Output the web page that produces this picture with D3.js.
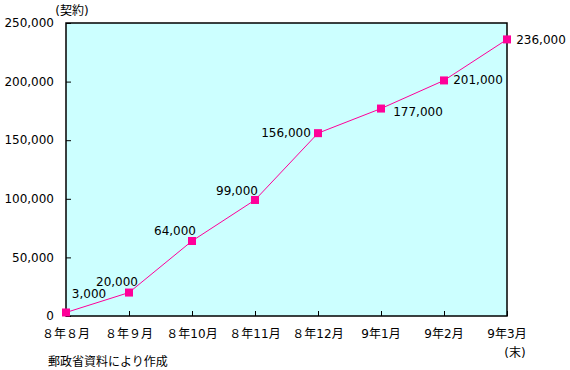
<!DOCTYPE html>
<html>
<head>
<meta charset="utf-8">
<title>契約数の推移</title>
<style>
  body { margin: 0; background: #fff; }
  svg text { font-family: "DejaVu Sans", "Noto Sans CJK JP", sans-serif; fill: #000; }
</style>
</head>
<body>
<script src="https://d3js.org/d3.v7.min.js"></script>
<script>
// data
var months = ["８年８月", "８年９月", "８年10月", "８年11月", "８年12月", "9年1月", "9年2月", "9年3月"];
var contracts = [3000, 20000, 64000, 99000, 156000, 177000, 201000, 236000];
var valueLabels = ["3,000", "20,000", "64,000", "99,000", "156,000", "177,000", "201,000", "236,000"];
var yTicks = [0, 50000, 100000, 150000, 200000, 250000];

// where each value label sits relative to its point
var labelOffsets = [[23, -19], [-12, -11], [-17, -10], [-18, -9], [-32, 0], [37, 3], [34, -1], [34, 0]];

var width = 570, height = 370;
var margin = { left: 66, right: 63, top: 23, bottom: 54 };

var svg = d3.select("body")
    .append("svg")
    .attr("width", width)
    .attr("height", height);

var x = d3.scalePoint()
    .domain(months)
    .range([margin.left, width - margin.right]);

var y = d3.scaleLinear()
    .domain([0, 250000])
    .range([height - margin.bottom, margin.top]);

// plot background
svg.append("rect")
    .attr("x", margin.left)
    .attr("y", margin.top)
    .attr("width", width - margin.left - margin.right)
    .attr("height", height - margin.top - margin.bottom)
    .attr("fill", "#ccffff")
    .attr("stroke", "#000")
    .attr("stroke-width", 1.5);

// y axis, ticks pointing inside
var yAxis = svg.append("g")
    .attr("transform", "translate(" + margin.left + ",0)")
    .call(d3.axisRight(y).tickValues(yTicks).tickSize(5).tickFormat(""));
yAxis.select(".domain").remove();
yAxis.selectAll("line").attr("stroke", "#000");

svg.selectAll(".ylab")
    .data(yTicks)
    .enter()
    .append("text")
    .attr("class", "ylab")
    .attr("x", 54)
    .attr("y", function(d){ return y(d); })
    .attr("dy", "0.35em")
    .attr("text-anchor", "end")
    .style("font-size", "12px")
    .text(function(d){ return d3.format(",")(d); });

// x axis, ticks pointing up
var xAxis = svg.append("g")
    .attr("transform", "translate(0," + y(0) + ")")
    .call(d3.axisTop(x).tickSize(5).tickFormat(""));
xAxis.select(".domain").remove();
xAxis.selectAll("line").attr("stroke", "#000");

svg.selectAll(".xlab")
    .data(months)
    .enter()
    .append("text")
    .attr("class", "xlab")
    .attr("x", function(d){ return x(d); })
    .attr("y", 338)
    .attr("text-anchor", "middle")
    .style("font-size", "12px")
    .text(function(d){ return d; });

svg.append("text")
    .attr("x", x(months[months.length - 1]) + 8)
    .attr("y", 357)
    .attr("text-anchor", "middle")
    .style("font-size", "12px")
    .text("(末)");

svg.append("text")
    .attr("x", 72)
    .attr("y", 15)
    .attr("text-anchor", "middle")
    .style("font-size", "12px")
    .text("(契約)");

svg.append("text")
    .attr("x", 48)
    .attr("y", 366)
    .style("font-size", "12px")
    .text("郵政省資料により作成");

// line and markers
var line = d3.line()
    .x(function(d, i){ return x(months[i]); })
    .y(function(d){ return y(d); });

svg.append("path")
    .datum(contracts)
    .attr("d", line)
    .attr("fill", "none")
    .attr("stroke", "#ff0099")
    .attr("stroke-width", 1);

svg.selectAll(".pt")
    .data(contracts)
    .enter()
    .append("rect")
    .attr("class", "pt")
    .attr("x", function(d, i){ return x(months[i]) - 4; })
    .attr("y", function(d){ return y(d) - 4; })
    .attr("width", 8)
    .attr("height", 8)
    .attr("fill", "#ff0099");

svg.selectAll(".vlab")
    .data(contracts)
    .enter()
    .append("text")
    .attr("class", "vlab")
    .attr("x", function(d, i){ return x(months[i]) + labelOffsets[i][0]; })
    .attr("y", function(d, i){ return y(d) + labelOffsets[i][1]; })
    .attr("dy", "0.35em")
    .attr("text-anchor", "middle")
    .style("font-size", "12px")
    .text(function(d, i){ return valueLabels[i]; });
</script>
</body>
</html>
